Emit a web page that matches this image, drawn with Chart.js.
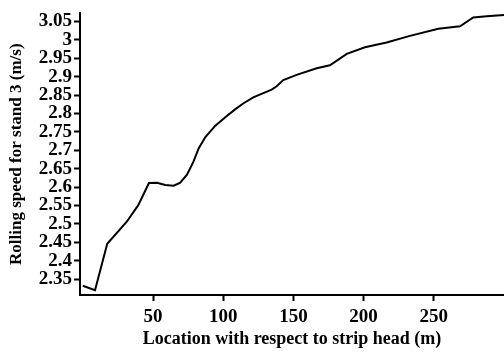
<!DOCTYPE html>
<html>
<head>
<meta charset="utf-8">
<script src="https://cdn.jsdelivr.net/npm/chart.js@4"></script>
<style>
  body { margin: 0; background: #fff; }
  #wrap { width: 504px; height: 355px; }
</style>
</head>
<body>
<div id="wrap"><canvas id="speedChart" width="504" height="355"></canvas></div>
<script>
// location along the strip (m) and rolling speed of stand 3 (m/s)
const locations = [0, 8.7, 17.4, 31.3, 39.5, 47.1, 52.8, 58.8, 64.7, 69.4, 74.2, 78.9, 82.5, 87.3, 94.4,
                   101.5, 108.7, 114.5, 121.4, 134.5, 138.1, 142.8, 152.3, 166.6, 176, 188, 201,
                   216.4, 233, 253.2, 268.7, 278.1, 287.7, 300];
const speeds = [2.332, 2.320, 2.446, 2.506, 2.551, 2.611, 2.612, 2.606, 2.604, 2.612, 2.634, 2.670, 2.705, 2.736, 2.767,
                2.790, 2.812, 2.828, 2.844, 2.865, 2.874, 2.891, 2.905, 2.923, 2.931, 2.962, 2.980,
                2.993, 3.011, 3.030, 3.037, 3.061, 3.064, 3.068];
const xTicks = [50, 100, 150, 200, 250];
const yTicks = [2.35, 2.4, 2.45, 2.5, 2.55, 2.6, 2.65, 2.7, 2.75, 2.8, 2.85, 2.9, 2.95, 3, 3.05];

const tickFont = { family: 'Liberation Serif', size: 19, weight: 'bold' };

const ctx = document.getElementById('speedChart').getContext('2d');
const speedChart = new Chart(ctx, {
    type: 'line',
    data: {
        datasets: [{
            label: 'Rolling speed',
            data: locations.map((x, i) => ({ x: x, y: speeds[i] })),
            borderColor: '#000',
            borderWidth: 2,
            pointRadius: 0,
            tension: 0,
            fill: false
        }]
    },
    options: {
        responsive: false,
        animation: false,
        layout: { padding: { top: 7, right: 0, left: 0, bottom: 0 } },
        plugins: {
            legend: { display: false },
            tooltip: { enabled: false }
        },
        scales: {
            x: {
                type: 'linear',
                min: -2,
                max: 300,
                afterBuildTicks: (scale) => { scale.ticks = xTicks.map(v => ({ value: v })); },
                afterFit: (scale) => { scale.height = 60; },
                border: { display: true, color: '#000', width: 2 },
                grid: { display: true, drawOnChartArea: false, drawTicks: true, tickLength: 6, tickWidth: 2, color: '#000' },
                ticks: { color: '#000', font: tickFont, padding: 5, maxRotation: 0, autoSkip: false },
                title: {
                    display: true,
                    text: 'Location with respect to strip head (m)',
                    color: '#000',
                    font: { family: 'Liberation Serif', size: 18, weight: 'bold' },
                    padding: { top: 4, bottom: 5 }
                }
            },
            y: {
                type: 'linear',
                min: 2.307,
                max: 3.072,
                afterBuildTicks: (scale) => { scale.ticks = yTicks.map(v => ({ value: v })); },
                afterFit: (scale) => { scale.width = 80; },
                border: { display: true, color: '#000', width: 2 },
                grid: { display: true, drawOnChartArea: false, drawTicks: true, tickLength: 6, tickWidth: 2, color: '#000' },
                ticks: {
                    color: '#000',
                    font: tickFont,
                    padding: 2,
                    autoSkip: false,
                    callback: (value) => String(Number(value.toFixed(2)))
                },
                title: {
                    display: true,
                    text: 'Rolling speed for stand 3 (m/s)',
                    color: '#000',
                    font: { family: 'Liberation Serif', size: 17, weight: 'bold' },
                    padding: { top: 6, bottom: 6 }
                }
            }
        }
    }
});
</script>
</body>
</html>
